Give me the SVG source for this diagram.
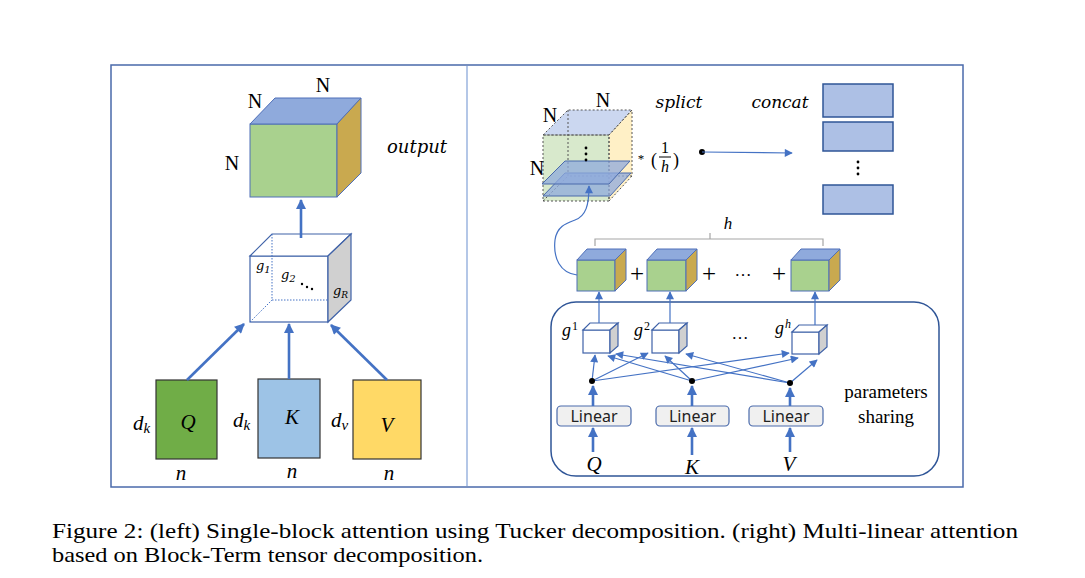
<svg xmlns="http://www.w3.org/2000/svg" width="1085" height="578" viewBox="0 0 1085 578">
<defs>
<style>
.frame{fill:none;stroke:#4a6aab;stroke-width:1.5}
.ser{font-family:"Liberation Serif",serif;fill:#000}
.it{font-family:"DejaVu Serif","Liberation Serif",serif;font-style:italic;fill:#000}
.lit{font-family:"Liberation Serif",serif;font-style:italic;fill:#000}
.thick{stroke:#4472c4;stroke-width:2.6;fill:none}
.thin{stroke:#4472c4;stroke-width:1.2;fill:none}
.edge{stroke:#4f6fb8;stroke-width:1}
.front{fill:#a9d18e}
.top{fill:#8faadc}
.side{fill:#c9a94f}
.gface{fill:#fff;stroke:#3f62a8;stroke-width:1.2}
.gside{fill:#d0d0d0;stroke:#3f62a8;stroke-width:1.2}
.dash{stroke:#555;stroke-width:1;stroke-dasharray:2,2}
.lin{fill:#f0f0f0;stroke:#4a6aab;stroke-width:1.2}
.lintext{font-family:"Noto Sans","DejaVu Sans",sans-serif;font-size:16px;fill:#222}
.cc{fill:#adc0e5;stroke:#2f5597;stroke-width:1.5}
</style>
<marker id="ah" viewBox="0 0 10 10" refX="9" refY="5" markerWidth="11" markerHeight="10" markerUnits="userSpaceOnUse" orient="auto"><path d="M0,0 L10,5 L0,10 z" fill="#4472c4"/></marker>
<marker id="as" viewBox="0 0 10 10" refX="9" refY="5" markerWidth="9" markerHeight="8" markerUnits="userSpaceOnUse" orient="auto"><path d="M0,0 L10,5 L0,10 z" fill="#4472c4"/></marker>
</defs>
<rect width="1085" height="578" fill="#fff"/>

<g id="frame">
<rect class="frame" x="111" y="65" width="852" height="422"/>
<line x1="467" y1="66" x2="467" y2="486" stroke="#b4c7e7" stroke-width="2"/>
</g>

<!-- LEFT PANEL -->
<g id="output-cube">
<rect class="front edge" x="250" y="124" width="87" height="73"/>
<polygon class="top edge" points="250,124 275,98 361,98 337,124"/>
<polygon class="side edge" points="337,124 361,98 361,173 337,197"/>
<text class="ser" x="255" y="108" font-size="20" text-anchor="middle">N</text>
<text class="ser" x="323" y="92" font-size="20" text-anchor="middle">N</text>
<text class="ser" x="232" y="170" font-size="20" text-anchor="middle">N</text>
<text class="it" x="417" y="153" font-size="18" text-anchor="middle">output</text>
</g>

<g id="core-cube">
<rect class="gface" x="250" y="256" width="78" height="66"/>
<polygon class="gface" points="250,256 272,234 351,234 328,256"/>
<polygon class="gside" points="328,256 351,234 351,300 328,322"/>
<path d="M272,234 V300 H328 M250,322 L272,300" stroke="#4472c4" stroke-width="1" stroke-dasharray="1.5,1.5" fill="none"/>
<text class="it" x="256" y="270" font-size="13">g<tspan font-size="10" dy="3">1</tspan></text>
<text class="it" x="281" y="279" font-size="13">g<tspan font-size="10" dy="3">2</tspan></text>
<circle cx="302" cy="284" r="1.2"/><circle cx="307" cy="287" r="1.2"/><circle cx="312" cy="289" r="1.2"/>
<text class="it" x="333" y="295" font-size="13">g<tspan font-size="9" dy="3">R</tspan></text>
</g>

<g id="Q">
<rect x="156" y="380" width="61" height="79" fill="#70ad47" stroke="#333" stroke-width="1.2"/>
<text class="lit" x="188" y="429" font-size="21" text-anchor="middle">Q</text>
<text class="lit" x="133" y="430" font-size="21">d<tspan font-size="15" dy="3">k</tspan></text>
<text class="lit" x="181" y="480" font-size="21" text-anchor="middle">n</text>
</g>
<g id="K">
<rect x="258" y="379" width="62" height="79" fill="#9dc3e6" stroke="#333" stroke-width="1.2"/>
<text class="lit" x="292" y="424" font-size="21" text-anchor="middle">K</text>
<text class="lit" x="233" y="427" font-size="21">d<tspan font-size="15" dy="3">k</tspan></text>
<text class="lit" x="292" y="478" font-size="21" text-anchor="middle">n</text>
</g>
<g id="V">
<rect x="353" y="380" width="68" height="79" fill="#ffd966" stroke="#333" stroke-width="1.2"/>
<text class="lit" x="387" y="432" font-size="21" text-anchor="middle">V</text>
<text class="lit" x="331" y="427" font-size="21">d<tspan font-size="15" dy="3">v</tspan></text>
<text class="lit" x="389" y="480" font-size="21" text-anchor="middle">n</text>
</g>

<g id="left-connectors">
<line class="thick" x1="301" y1="238" x2="301" y2="200" marker-end="url(#ah)"/>
<line class="thick" x1="187" y1="380" x2="244" y2="324" marker-end="url(#ah)"/>
<line class="thick" x1="289" y1="379" x2="289" y2="324" marker-end="url(#ah)"/>
<line class="thick" x1="387" y1="380" x2="331" y2="325" marker-end="url(#ah)"/>
</g>

<!-- RIGHT PANEL -->
<g id="split-cube">
<rect x="543" y="135" width="66" height="66" fill="#d8e9cc"/>
<polygon points="543,135 568,110 632,110 609,135" fill="#cbd7f0"/>
<polygon points="609,135 632,110 632,176 609,201" fill="#fff0c6"/>
<path class="dash" fill="none" d="M568,110 V176 H632 M543,201 L568,176"/>
<rect class="dash" fill="none" x="543" y="135" width="66" height="66"/>
<polygon class="dash" fill="none" points="543,135 568,110 632,110 609,135"/>
<polygon class="dash" fill="none" points="609,135 632,110 632,176 609,201"/>
<polygon points="543,196 610,196 631,173 565,173" fill="#8faadc" fill-opacity="0.75" stroke="#4a6aab" stroke-width="1"/>
<polygon points="542,184 609,184 630,161 565,161" fill="#8faadc" fill-opacity="0.75" stroke="#4a6aab" stroke-width="1"/>
<circle cx="586" cy="148" r="1.4"/><circle cx="586" cy="154" r="1.4"/><circle cx="586" cy="160" r="1.4"/>
<text class="ser" x="550" y="122" font-size="20" text-anchor="middle">N</text>
<text class="ser" x="603" y="107" font-size="20" text-anchor="middle">N</text>
<text class="ser" x="537" y="175" font-size="20" text-anchor="middle">N</text>
<text class="it" x="679" y="108" font-size="17" text-anchor="middle">splict</text>
<text class="ser" x="641" y="163" font-size="13" text-anchor="middle">*</text>
<text class="ser" x="654" y="166" font-size="18" text-anchor="middle">(</text>
<text class="ser" x="665" y="153" font-size="16" text-anchor="middle">1</text>
<line x1="659" y1="157" x2="671" y2="157" stroke="#000" stroke-width="1"/>
<text class="lit" x="665" y="172" font-size="16" text-anchor="middle">h</text>
<text class="ser" x="676" y="166" font-size="18" text-anchor="middle">)</text>
</g>

<g id="concat">
<text class="it" x="780" y="108" font-size="17" text-anchor="middle">concat</text>
<rect class="cc" x="823" y="84" width="70" height="33"/>
<rect class="cc" x="823" y="122" width="70" height="29" fill="#c5d3ee"/>
<circle cx="858" cy="162" r="1.4"/><circle cx="858" cy="168" r="1.4"/><circle cx="858" cy="174" r="1.4"/>
<rect class="cc" x="823" y="185" width="70" height="29"/>
</g>

<g id="sum">
<path d="M595,246 V239 H823 V246 M710,239 V233" stroke="#a6a6a6" stroke-width="1.2" fill="none"/>
<text class="lit" x="728" y="229" font-size="17" text-anchor="middle">h</text>
<g id="head1">
<rect class="front edge" x="577" y="260" width="38" height="31"/>
<polygon class="top edge" points="577,260 587,249 626,249 615,260"/>
<polygon class="side edge" points="615,260 626,249 626,280 615,291"/>
</g>
<g id="head2">
<rect class="front edge" x="647" y="260" width="39" height="31"/>
<polygon class="top edge" points="647,260 657,249 697,249 686,260"/>
<polygon class="side edge" points="686,260 697,249 697,280 686,291"/>
</g>
<g id="headh">
<rect class="front edge" x="791" y="260" width="38" height="31"/>
<polygon class="top edge" points="791,260 801,249 840,249 829,260"/>
<polygon class="side edge" points="829,260 840,249 840,280 829,291"/>
</g>
<text class="ser" x="637" y="282" font-size="25" text-anchor="middle">+</text>
<text class="ser" x="709" y="282" font-size="25" text-anchor="middle">+</text>
<text class="ser" x="743" y="276" font-size="17" text-anchor="middle">…</text>
<text class="ser" x="779" y="282" font-size="25" text-anchor="middle">+</text>
</g>

<g id="sharing-box">
<rect x="551" y="302" width="388" height="174" rx="25" ry="25" fill="none" stroke="#2f5597" stroke-width="1.5"/>
<text class="ser" x="886" y="398" font-size="19" text-anchor="middle">parameters</text>
<text class="ser" x="886" y="423" font-size="19" text-anchor="middle">sharing</text>
</g>

<g id="g1">
<rect class="gface" x="583" y="330" width="27" height="23"/>
<polygon class="gface" points="583,330 590,323 618,323 610,330"/>
<polygon class="gside" points="610,330 618,323 618,346 610,353"/>
<text class="lit" x="562" y="336" font-size="18">g</text>
<text class="ser" x="572" y="330" font-size="12">1</text>
</g>
<g id="g2">
<rect class="gface" x="652" y="330" width="27" height="23"/>
<polygon class="gface" points="652,330 659,323 687,323 679,330"/>
<polygon class="gside" points="679,330 687,323 687,346 679,353"/>
<text class="lit" x="634" y="336" font-size="18">g</text>
<text class="ser" x="644" y="330" font-size="12">2</text>
</g>
<text class="ser" x="740" y="339" font-size="17" text-anchor="middle">…</text>
<g id="gh">
<rect class="gface" x="792" y="332" width="27" height="22"/>
<polygon class="gface" points="792,332 799,325 827,325 819,332"/>
<polygon class="gside" points="819,332 827,325 827,347 819,354"/>
<text class="lit" x="775" y="334" font-size="18">g</text>
<text class="lit" x="785" y="328" font-size="12">h</text>
</g>

<g id="linear1">
<rect class="lin" x="557" y="406" width="74" height="20" rx="4"/>
<text class="lintext" x="594" y="422" text-anchor="middle">Linear</text>
</g>
<g id="linear2">
<rect class="lin" x="656" y="406" width="73" height="20" rx="4"/>
<text class="lintext" x="692.5" y="422" text-anchor="middle">Linear</text>
</g>
<g id="linear3">
<rect class="lin" x="749" y="406" width="74" height="20" rx="4"/>
<text class="lintext" x="786" y="422" text-anchor="middle">Linear</text>
</g>
<text class="lit" x="594" y="471" font-size="21" text-anchor="middle">Q</text>
<text class="lit" x="692" y="474" font-size="21" text-anchor="middle">K</text>
<text class="lit" x="789" y="471" font-size="21" text-anchor="middle">V</text>

<g id="right-connectors">
<path class="thin" d="M577,275 C560,273 553,258 555,240 C557,226 567,223 575,220 C586,216 589,205 589,186" marker-end="url(#as)"/>
<circle cx="702" cy="152" r="3"/>
<line class="thin" x1="702" y1="152" x2="792" y2="153" marker-end="url(#as)"/>
<line class="thin" x1="599" y1="323" x2="599" y2="292" marker-end="url(#as)"/>
<line class="thin" x1="670" y1="323" x2="670" y2="292" marker-end="url(#as)"/>
<line class="thin" x1="815" y1="325" x2="815" y2="292" marker-end="url(#as)"/>
<line class="thin" x1="592" y1="381" x2="595" y2="355" marker-end="url(#as)"/>
<line class="thin" x1="592" y1="381" x2="648" y2="353" marker-end="url(#as)"/>
<line class="thin" x1="592" y1="381" x2="789" y2="353" marker-end="url(#as)"/>
<line class="thin" x1="692" y1="381" x2="608" y2="356" marker-end="url(#as)"/>
<line class="thin" x1="692" y1="381" x2="665" y2="356" marker-end="url(#as)"/>
<line class="thin" x1="692" y1="381" x2="798" y2="358" marker-end="url(#as)"/>
<line class="thin" x1="790" y1="383" x2="616" y2="354" marker-end="url(#as)"/>
<line class="thin" x1="790" y1="383" x2="686" y2="354" marker-end="url(#as)"/>
<line class="thin" x1="790" y1="383" x2="817" y2="360" marker-end="url(#as)"/>
<circle cx="592" cy="381" r="3"/><circle cx="692" cy="381" r="3"/><circle cx="790" cy="383" r="3"/>
<line class="thick" x1="593" y1="406" x2="593" y2="386" marker-end="url(#ah)"/>
<line class="thick" x1="692" y1="406" x2="692" y2="386" marker-end="url(#ah)"/>
<line class="thick" x1="790" y1="406" x2="790" y2="388" marker-end="url(#ah)"/>
<line class="thick" x1="593" y1="452" x2="593" y2="428" marker-end="url(#ah)"/>
<line class="thick" x1="692" y1="455" x2="692" y2="428" marker-end="url(#ah)"/>
<line class="thick" x1="790" y1="452" x2="790" y2="428" marker-end="url(#ah)"/>
</g>

<g id="caption">
<text class="ser" x="52" y="538" font-size="21" textLength="966" lengthAdjust="spacingAndGlyphs">Figure 2: (left) Single-block attention using Tucker decomposition. (right) Multi-linear attention</text>
<text class="ser" x="52" y="562" font-size="21" textLength="431" lengthAdjust="spacingAndGlyphs">based on Block-Term tensor decomposition.</text>
</g>
</svg>
